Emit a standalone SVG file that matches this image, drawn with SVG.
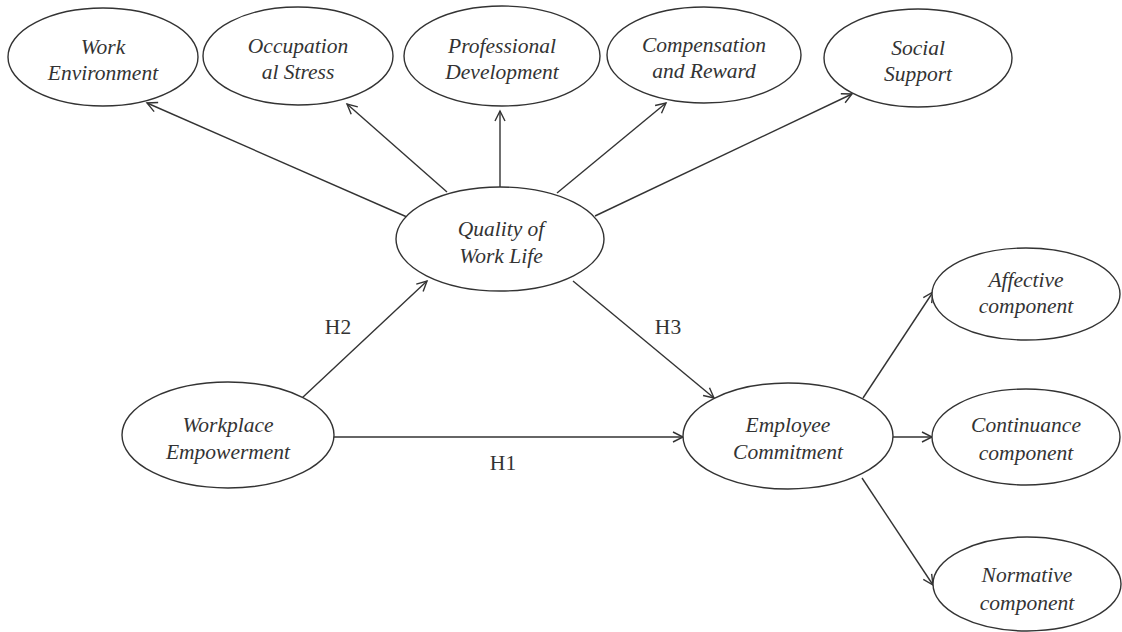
<svg xmlns="http://www.w3.org/2000/svg" width="1122" height="632" viewBox="0 0 1122 632">
<style>
.node ellipse{fill:#fff;stroke:#333;stroke-width:1.4}
.node text{font-style:italic;font-size:21.5px;fill:#333;text-anchor:middle}
.conn line{stroke:#333;stroke-width:1.4;fill:none}
.lbl{font-size:21.5px;fill:#333;text-anchor:middle}
</style>
<defs>
<marker id="arr" markerUnits="userSpaceOnUse" markerWidth="14" markerHeight="14" refX="11" refY="6" orient="auto">
<path d="M1,1 L11,6 L1,11" fill="none" stroke="#333" stroke-width="1.4"/>
</marker>
</defs>
<rect width="1122" height="632" fill="#fff"/>
<g font-family="Liberation Serif">
<g id="connectors" class="conn">
<line x1="407" y1="217" x2="147" y2="103" marker-end="url(#arr)"/>
<line x1="447" y1="192" x2="347" y2="104" marker-end="url(#arr)"/>
<line x1="500" y1="187" x2="500" y2="111" marker-end="url(#arr)"/>
<line x1="557" y1="193" x2="666" y2="103" marker-end="url(#arr)"/>
<line x1="595" y1="216" x2="852" y2="94" marker-end="url(#arr)"/>
<line x1="302" y1="398" x2="427" y2="281" marker-end="url(#arr)"/>
<line x1="334" y1="437" x2="683" y2="437" marker-end="url(#arr)"/>
<line x1="573" y1="281" x2="714" y2="398" marker-end="url(#arr)"/>
<line x1="863" y1="398" x2="933" y2="292" marker-end="url(#arr)"/>
<line x1="893" y1="437" x2="932" y2="437" marker-end="url(#arr)"/>
<line x1="862" y1="478" x2="933" y2="585" marker-end="url(#arr)"/>
<text class="lbl" x="338" y="334">H2</text>
<text class="lbl" x="668" y="334">H3</text>
<text class="lbl" x="503" y="470">H1</text>
</g>
<g id="work-environment" class="node"><ellipse cx="103" cy="57" rx="95" ry="49"/><text x="103" y="54">Work</text><text x="103" y="80">Environment</text></g>
<g id="occupational-stress" class="node"><ellipse cx="298" cy="56" rx="95" ry="49"/><text x="298" y="53">Occupation</text><text x="298" y="79">al Stress</text></g>
<g id="professional-development" class="node"><ellipse cx="502" cy="56" rx="98" ry="50"/><text x="502" y="53">Professional</text><text x="502" y="79">Development</text></g>
<g id="compensation-reward" class="node"><ellipse cx="704" cy="55" rx="97" ry="48"/><text x="704" y="52">Compensation</text><text x="704" y="78">and Reward</text></g>
<g id="social-support" class="node"><ellipse cx="918" cy="58" rx="94" ry="49"/><text x="918" y="55">Social</text><text x="918" y="81">Support</text></g>
<g id="quality-of-work-life" class="node"><ellipse cx="500" cy="239" rx="104" ry="52"/><text x="501" y="236">Quality of</text><text x="501" y="263">Work Life</text></g>
<g id="workplace-empowerment" class="node"><ellipse cx="228" cy="435" rx="106" ry="53"/><text x="228" y="432">Workplace</text><text x="228" y="459">Empowerment</text></g>
<g id="employee-commitment" class="node"><ellipse cx="788" cy="436" rx="105" ry="53"/><text x="788" y="432">Employee</text><text x="788" y="459">Commitment</text></g>
<g id="affective-component" class="node"><ellipse cx="1026" cy="294" rx="94" ry="46"/><text x="1026" y="287">Affective</text><text x="1026" y="313">component</text></g>
<g id="continuance-component" class="node"><ellipse cx="1026" cy="437" rx="94" ry="48"/><text x="1026" y="432">Continuance</text><text x="1026" y="460">component</text></g>
<g id="normative-component" class="node"><ellipse cx="1027" cy="584" rx="94" ry="47"/><text x="1027" y="582">Normative</text><text x="1027" y="610">component</text></g>
</g>
</svg>
